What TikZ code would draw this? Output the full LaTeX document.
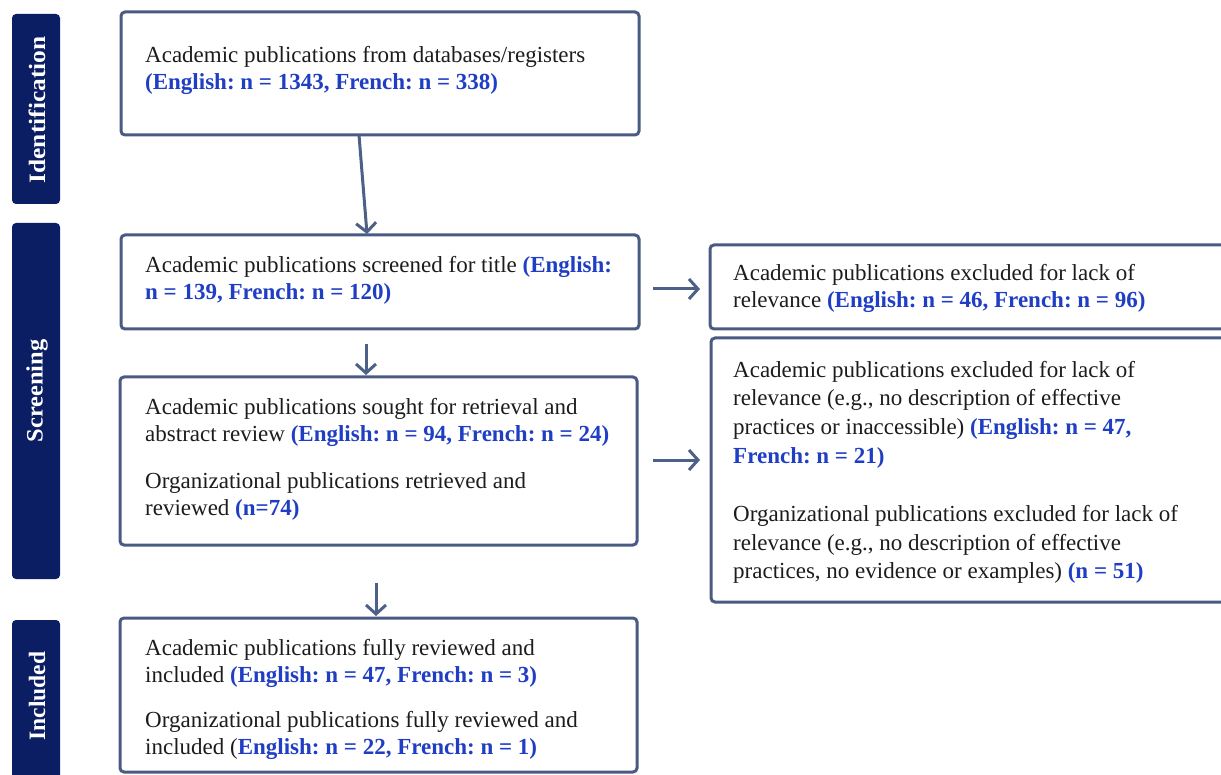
\documentclass[tikz,border=0pt]{standalone}
\usepackage{fontspec}
\setmainfont{Liberation Serif}
\usetikzlibrary{arrows.meta,calc}
\definecolor{bordc}{HTML}{4A5A82}
\definecolor{navy}{HTML}{0B1D63}
\definecolor{numblue}{HTML}{1F3EC4}
\definecolor{txt}{HTML}{1C1C1C}
\definecolor{arrc}{HTML}{4D6088}
\newcommand{\nb}[1]{{\color{numblue}\bfseries #1}}
\frenchspacing
\begin{document}
\begin{tikzpicture}[x=1pt,y=-1pt,
  box/.style={draw=bordc,line width=3pt,rounded corners=4pt,inner sep=0pt,outer sep=0pt,anchor=north west},
  stage/.style={fill=navy,rounded corners=4pt,inner sep=0pt,outer sep=0pt,anchor=north west},
  stagelbl/.style={text=white,font=\fontsize{23.5}{27}\selectfont\bfseries,rotate=90,inner sep=0pt},
  ln/.style={anchor=base west,inner sep=0pt,text=txt,font=\fontsize{23}{27.5}\selectfont},
  arr/.style={draw=arrc,line width=3pt,-{Straight Barb[length=9pt,width=20pt]}}
]
\useasboundingbox (0,0) rectangle (1221,775);
\clip (0,0) rectangle (1221,775);

% stage bars
\node[stage,minimum width=48pt,minimum height=190pt] (s1) at (12,14) {};
\node[stage,minimum width=48pt,minimum height=356pt] (s2) at (12,223) {};
\node[stage,minimum width=48pt,minimum height=170pt] (s3) at (12,620) {};
\node[stagelbl] (s1t) at (37,110) {\scalebox{1.08}[1]{Identification}};
\node[stagelbl] (s2t) at (37,391) {\scalebox{1.04}[1]{Screening}};
\node[stagelbl] (s3t) at (37,696) {Included};

% boxes
\node[box,minimum width=518pt,minimum height=123pt] (A) at (121,12) {};
\node[box,minimum width=518pt,minimum height=94pt] (B) at (121,235) {};
\node[box,minimum width=517pt,minimum height=168pt] (C) at (120,377) {};
\node[box,minimum width=517pt,minimum height=154pt] (D) at (120,618) {};
\node[box,minimum width=520pt,minimum height=84pt] (E) at (710,245) {};
\node[box,minimum width=520pt,minimum height=264pt] (F) at (711,338) {};

% texts
\node[ln] (a1) at (145,63) {Academic publications from databases/registers};
\node[ln] (a2) at (145,90) {\nb{(English: n = 1343, French: n = 338)}};

\node[ln] (b1) at (145,273) {Academic publications screened for title \nb{(English:}};
\node[ln] (b2) at (145,300) {\nb{n = 139, French: n = 120)}};

\node[ln] (c1) at (145,415) {Academic publications sought for retrieval and};
\node[ln] (c2) at (145,442) {abstract review \nb{(English: n = 94, French: n = 24)}};
\node[ln] (c3) at (145,488) {Organizational publications retrieved and};
\node[ln] (c4) at (145,515) {reviewed \nb{(n=74)}};

\node[ln] (d1) at (145,655) {Academic publications fully reviewed and};
\node[ln] (d2) at (145,682) {included \nb{(English: n = 47, French: n = 3)}};
\node[ln] (d3) at (145,727) {Organizational publications fully reviewed and};
\node[ln] (d4) at (145,754) {included (\nb{English: n = 22, French: n = 1)}};

\node[ln] (e1) at (733,281) {Academic publications excluded for lack of};
\node[ln] (e2) at (733,308) {relevance \nb{(English: n = 46, French: n = 96)}};

\node[ln] (f1) at (733,378) {Academic publications excluded for lack of};
\node[ln] (f2) at (733,406) {relevance (e.g., no description of effective};
\node[ln] (f3) at (733,435) {practices or inaccessible) \nb{(English: n = 47,}};
\node[ln] (f4) at (733,464) {\nb{French: n = 21)}};
\node[ln] (f5) at (733,521) {Organizational publications excluded for lack of};
\node[ln] (f6) at (733,550) {relevance (e.g., no description of effective};
\node[ln] (f7) at (733,578) {practices, no evidence or examples) \nb{(n = 51)}};

% connectors
\draw[arr] ($(A.south west)+(238,0)$) -- ($(B.north west)+(246,-1)$);
\coordinate (bcs) at ($(B.south west)+(245,15)$);
\draw[arr] (bcs) -- ($(C.north west)+(246,-2)$);
\coordinate (cds) at ($(C.south west)+(256,38)$);
\draw[arr] (cds) -- ($(D.north west)+(256,-2)$);
\coordinate (bes) at ($(B.south east)+(14,-40)$);
\coordinate (bee) at ($(E.south west)+(-10,-40)$);
\draw[arr] (bes) -- (bee);
\coordinate (cfs) at ($(C.north east)+(16,83)$);
\coordinate (cfe) at ($(F.north west)+(-11,122)$);
\draw[arr] (cfs) -- (cfe);
\end{tikzpicture}
\end{document}
